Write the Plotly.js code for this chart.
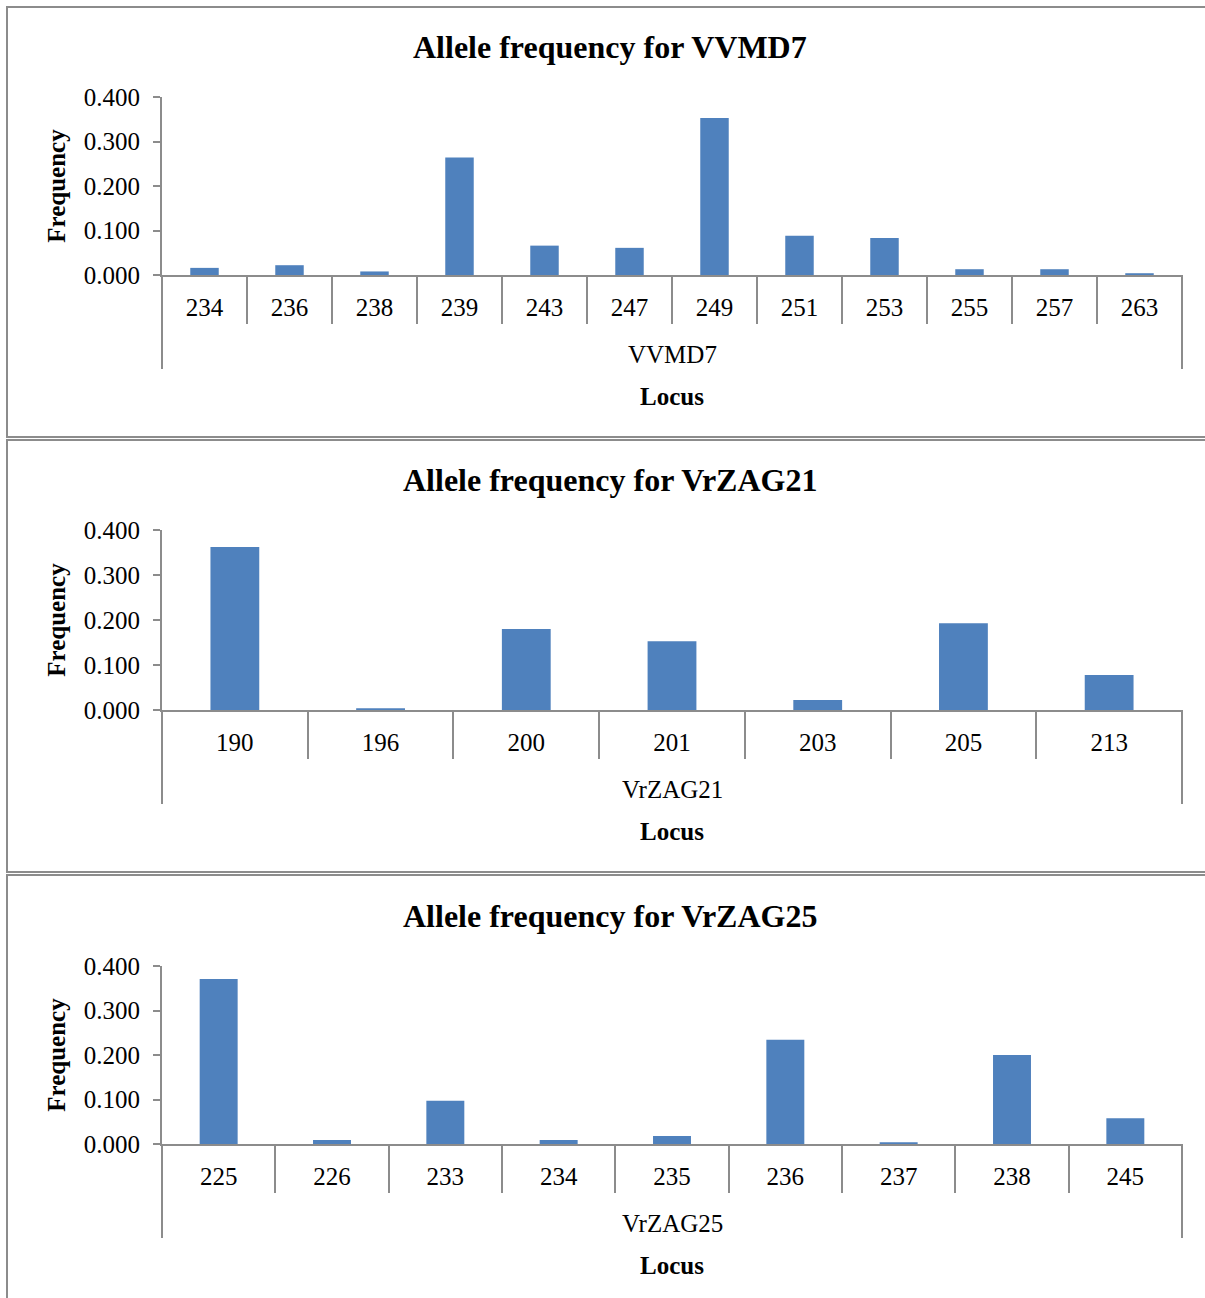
<!DOCTYPE html>
<html>
<head>
<meta charset="utf-8">
<script src="https://cdn.plot.ly/plotly-3.0.1.min.js"></script>
<style>html,body{margin:0;padding:0;background:#fff;}#chart{width:1205px;height:1298px;}</style>
</head>
<body>
<div id="chart"></div>
<script>
// ---- data ----
const vvmd7Alleles = ["234","236","238","239","243","247","249","251","253","255","257","263"];
const vvmd7Freq    = [0.016,0.022,0.008,0.264,0.066,0.061,0.353,0.088,0.083,0.013,0.013,0.004];

const vrzag21Alleles = ["190","196","200","201","203","205","213"];
const vrzag21Freq    = [0.362,0.004,0.180,0.153,0.022,0.193,0.078];

const vrzag25Alleles = ["225","226","233","234","235","236","237","238","245"];
const vrzag25Freq    = [0.371,0.009,0.097,0.009,0.018,0.234,0.004,0.200,0.058];

const locusNames = ["VVMD7","VrZAG21","VrZAG25"];
const yTickVals  = [0,0.1,0.2,0.3,0.4];

// ---- layout helpers ----
const W = 1205, H = 1298;
const py = p => 1 - p / H;      // pixel row -> paper y
const px = p => p / W;          // pixel col -> paper x
const SERIF = "Liberation Serif, Times New Roman, serif";
const GRAY = "#8c8c8c";
const BAR = "#4F81BD";

const panels = [
  {alleles: vvmd7Alleles,   freq: vvmd7Freq,   name: locusNames[0], top: 97,  base: 275, boxTop: 7,   boxBot: 437, title: 47},
  {alleles: vrzag21Alleles, freq: vrzag21Freq, name: locusNames[1], top: 530, base: 710, boxTop: 440, boxBot: 872, title: 480},
  {alleles: vrzag25Alleles, freq: vrzag25Freq, name: locusNames[2], top: 966, base: 1144, boxTop: 875, boxBot: 1310, title: 916}
];

const data = [];
const layout = {
  width: W, height: H,
  margin: {l: 0, r: 0, t: 0, b: 0},
  paper_bgcolor: "#fff", plot_bgcolor: "#fff",
  showlegend: false,
  bargap: 0.665,
  font: {family: SERIF, color: "#000", size: 25},
  shapes: [], annotations: []
};

panels.forEach((p, i) => {
  const n = i + 1;
  const xa = n === 1 ? "x" : "x" + n;
  const ya = n === 1 ? "y" : "y" + n;
  data.push({
    type: "bar", x: p.alleles, y: p.freq, xaxis: xa, yaxis: ya,
    marker: {color: BAR, line: {width: 0}},
    hoverinfo: "x+y"
  });
  layout["xaxis" + (n === 1 ? "" : n)] = {
    domain: [px(162), px(1182)], anchor: ya,
    type: "category",
    showline: true, linecolor: GRAY, linewidth: 2,
    ticks: "outside", tickson: "boundaries", ticklen: 47, tickwidth: 2, tickcolor: GRAY,
    ticklabelstandoff: 9,
    tickfont: {family: SERIF, size: 25, color: "#000"},
    showgrid: false, zeroline: false, fixedrange: true
  };
  layout["yaxis" + (n === 1 ? "" : n)] = {
    domain: [py(p.base), py(p.top)], anchor: xa,
    range: [0, 0.4], tickvals: yTickVals, tickformat: ".3f",
    showline: true, linecolor: GRAY, linewidth: 2,
    ticks: "outside", ticklen: 7, tickwidth: 2, tickcolor: GRAY,
    ticklabelstandoff: 8,
    tickfont: {family: SERIF, size: 25, color: "#000"},
    showgrid: false, zeroline: false, fixedrange: true,
    title: {text: "<b>Frequency</b>", font: {family: SERIF, size: 25, color: "#000"}, standoff: 11}
  };
  // panel border
  layout.shapes.push({type: "rect", xref: "paper", yref: "paper",
    x0: px(7), x1: px(1215), y0: py(p.boxBot), y1: py(p.boxTop),
    line: {color: GRAY, width: 2}, fillcolor: "rgba(0,0,0,0)", layer: "below"});
  // long end dividers of the category axis
  [0, 1].forEach(e => layout.shapes.push({type: "line", xref: xa + " domain", yref: "paper",
    x0: e, x1: e, y0: py(p.base), y1: py(p.base + 94),
    line: {color: GRAY, width: 2}}));
  // chart title
  layout.annotations.push({xref: "paper", yref: "paper", x: px(610), y: py(p.title),
    text: "<b>Allele frequency for " + p.name + "</b>", showarrow: false,
    font: {family: SERIF, size: 32, color: "#000"}, xanchor: "center", yanchor: "middle"});
  // group label
  layout.annotations.push({xref: xa + " domain", yref: "paper", x: 0.5, y: py(p.base + 79),
    text: p.name, showarrow: false,
    font: {family: SERIF, size: 25, color: "#000"}, xanchor: "center", yanchor: "middle"});
  // axis title
  layout.annotations.push({xref: xa + " domain", yref: "paper", x: 0.5, y: py(p.base + 121),
    text: "<b>Locus</b>", showarrow: false,
    font: {family: SERIF, size: 25, color: "#000"}, xanchor: "center", yanchor: "middle"});
});

Plotly.newPlot("chart", data, layout, {displayModeBar: false, staticPlot: true});
</script>
</body>
</html>
